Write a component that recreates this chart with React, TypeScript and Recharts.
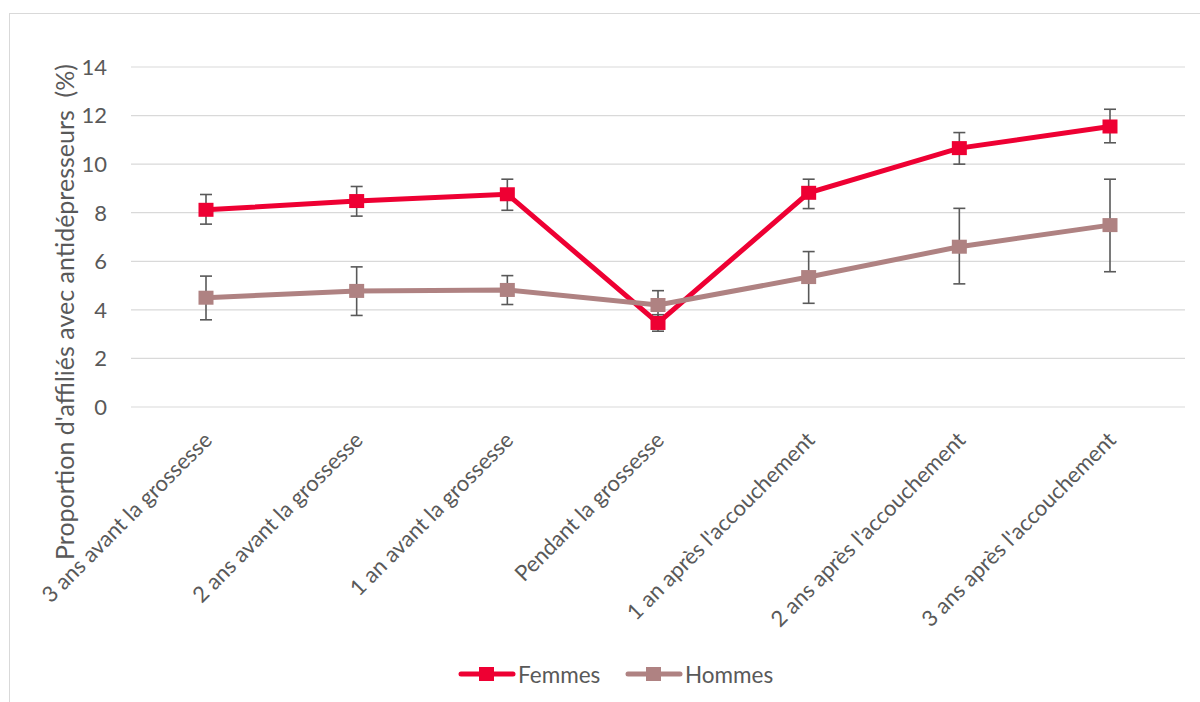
import React from "react";
import { LineChart, Line, XAxis, YAxis, CartesianGrid, ErrorBar } from "recharts";

const periods = [
  "3 ans avant la grossesse",
  "2 ans avant la grossesse",
  "1 an avant la grossesse",
  "Pendant la grossesse",
  "1 an après l'accouchement",
  "2 ans après l'accouchement",
  "3 ans après l'accouchement",
];

const femmes = [8.12, 8.48, 8.76, 3.46, 8.82, 10.66, 11.55];
const femmesLow = [7.53, 7.86, 8.1, 3.12, 8.17, 10.0, 10.88];
const femmesHigh = [8.75, 9.08, 9.38, 3.8, 9.38, 11.3, 12.26];

const hommes = [4.5, 4.78, 4.82, 4.2, 5.35, 6.6, 7.49];
const hommesLow = [3.59, 3.77, 4.22, 3.65, 4.27, 5.07, 5.57];
const hommesHigh = [5.39, 5.77, 5.41, 4.79, 6.4, 8.18, 9.38];

const yTicks = [0, 2, 4, 6, 8, 10, 12, 14];

const RED = "#EE0033";
const ROSE = "#AF8282";
const TEXT = "#595959";
const FONT = "Lato, 'Open Sans', sans-serif";

const data = periods.map((p, i) => ({
  period: p,
  femmes: femmes[i],
  femmesErr: [femmes[i] - femmesLow[i], femmesHigh[i] - femmes[i]],
  hommes: hommes[i],
  hommesErr: [hommes[i] - hommesLow[i], hommesHigh[i] - hommes[i]],
}));

const squareDot = (color: string) => (props: any) => {
  const { cx, cy, index } = props;
  return <rect key={`${color}-${index}`} x={cx - 7.5} y={cy - 7} width={15} height={14} fill={color} />;
};

const CategoryTick = (props: any) => {
  const { x, y, payload } = props;
  return (
    <g transform={`translate(${x + 2},${y + 27}) rotate(-45)`}>
      <text x={0} y={0} dy="0.35em" textAnchor="end" fill={TEXT} fontSize={22} fontFamily={FONT}>
        {payload.value}
      </text>
    </g>
  );
};

const YTitle = () => (
  <text
    transform="translate(64,312) rotate(-90)"
    textAnchor="middle"
    dominantBaseline="central"
    fill={TEXT}
    fontSize={25}
    fontFamily={FONT}
    style={{ whiteSpace: "pre" }}
  >
    {"Proportion d'affiliés avec antidépresseurs  (%)"}
  </text>
);

const LegendItem = ({ color, label, left }: { color: string; label: string; left: number }) => (
  <div style={{ position: "absolute", left, top: 660, display: "flex", alignItems: "center", height: 28 }}>
    <svg width={58} height={16}>
      <line x1={3} y1={8} x2={55} y2={8} stroke={color} strokeWidth={5} strokeLinecap="round" />
      <rect x={21} y={1} width={15} height={14} fill={color} />
    </svg>
    <span style={{ marginLeft: 2, color: TEXT, fontSize: 22.5, fontFamily: FONT }}>{label}</span>
  </div>
);

export default function App() {
  return (
    <div style={{ position: "absolute", left: 0, top: 0, width: 1200, height: 702, background: "#fff", overflow: "hidden" }}>
      <div style={{ position: "absolute", left: 9, top: 13, width: 1200, height: 700, border: "1px solid #D9D9D9" }} />
      <div style={{ position: "absolute", left: 0, top: 0 }}>
        <LineChart width={1200} height={702} data={data} margin={{ top: 67, left: 71, right: 15, bottom: 95 }}>
          <CartesianGrid vertical={false} stroke="#D9D9D9" strokeWidth={1.2} />
          <XAxis
            dataKey="period"
            axisLine={false}
            tickLine={false}
            tickSize={0}
            height={200}
            interval={0}
            padding={{ left: 75, right: 75 }}
            tick={<CategoryTick />}
          />
          <YAxis
            domain={[0, 14]}
            ticks={yTicks}
            axisLine={false}
            tickLine={false}
            tickSize={0}
            tickMargin={24}
            width={60}
            tick={{ fill: TEXT, fontSize: 22, fontFamily: FONT }}
            label={{ content: () => <YTitle /> }}
          />
          <Line
            dataKey="femmes"
            stroke={RED}
            strokeWidth={5}
            dot={squareDot(RED)}
            activeDot={false}
            isAnimationActive={false}
          >
            <ErrorBar dataKey="femmesErr" width={6} stroke="#595959" strokeWidth={1.6} isAnimationActive={false} />
          </Line>
          <Line
            dataKey="hommes"
            stroke={ROSE}
            strokeWidth={5}
            dot={squareDot(ROSE)}
            activeDot={false}
            isAnimationActive={false}
          >
            <ErrorBar dataKey="hommesErr" width={6} stroke="#595959" strokeWidth={1.6} isAnimationActive={false} />
          </Line>
        </LineChart>
      </div>
      <LegendItem color={RED} label="Femmes" left={458} />
      <LegendItem color={ROSE} label="Hommes" left={625} />
    </div>
  );
}
